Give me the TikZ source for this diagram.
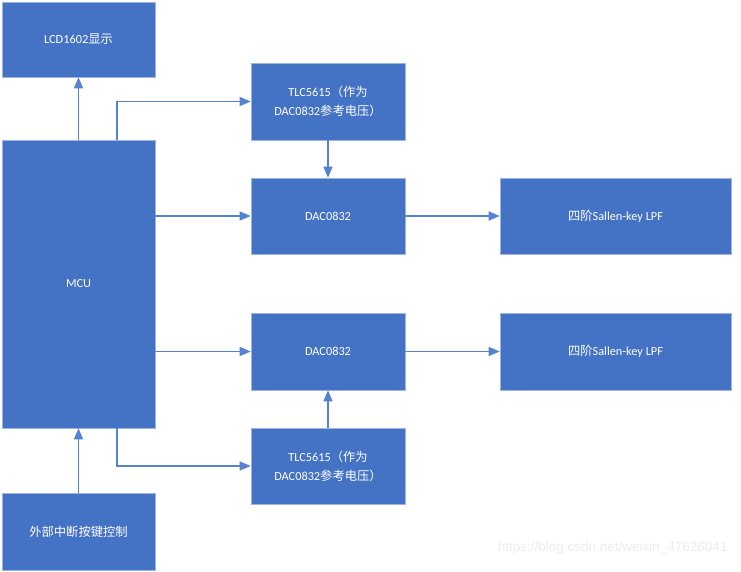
\documentclass[tikz,border=0pt]{standalone}
\usepackage{fontspec}
\setmainfont{Carlito}
\newfontfamily\cjk{Noto Sans CJK SC}
\newfontfamily\wmfont{Liberation Sans}
\usetikzlibrary{arrows.meta}
\definecolor{boxblue}{HTML}{4472C4}
\definecolor{edgeblue}{HTML}{9DB5E2}
\definecolor{lineblue}{HTML}{5583D2}
\begin{document}
\begin{tikzpicture}[x=1pt,y=-1pt,
  blk/.style={draw=edgeblue, line width=0.6pt, fill=boxblue, text=white,
    minimum width=#1, align=center, font=\fontsize{12.3}{19}\selectfont, inner sep=0pt},
  blk/.default=153pt,
  conn/.style={draw=lineblue, line width=1.2pt, -{Triangle[length=11pt,width=9pt]}}]
\useasboundingbox[fill=white] (0,0) rectangle (741,572);
\node[blk, minimum height=75pt] (lcd) at (78.5,39.5) {LCD1602{\cjk 显示}};
\node[blk, minimum height=288pt] (mcu) at (78.5,284) {MCU};
\node[blk, minimum height=77pt] (ext) at (78.5,531.5) {{\cjk 外部中断按键控制}};
\node[blk=154pt, minimum height=77pt] (tlc1) at (328,101.5) {TLC5615{\cjk （作为}\\DAC0832{\cjk 参考电压）}};
\node[blk=154pt, minimum height=76pt] (dac1) at (328,216) {DAC0832};
\node[blk=231pt, minimum height=76pt] (lpf1) at (615.5,216) {{\cjk 四阶}Sallen-key LPF};
\node[blk=154pt, minimum height=77pt] (dac2) at (328,351.5) {DAC0832};
\node[blk=231pt, minimum height=77pt] (lpf2) at (615.5,351.5) {{\cjk 四阶}Sallen-key LPF};
\node[blk=154pt, minimum height=76pt] (tlc2) at (328,466) {TLC5615{\cjk （作为}\\DAC0832{\cjk 参考电压）}};
\node[text=black!7, font=\wmfont\fontsize{13.5}{16}\selectfont, anchor=east] (wm) at (731,548) {https://blog.csdn.net/weixin\_47626041};
\draw[conn] (mcu.north) -- (lcd.south);
\draw[conn] ([xshift=38.5pt]mcu.north) |- (tlc1.west);
\draw[conn] (tlc1.south) -- (dac1.north);
\draw[conn] (dac1.west -| mcu.east) -- (dac1.west);
\draw[conn] (dac1.east) -- (lpf1.west);
\draw[conn] (dac2.west -| mcu.east) -- (dac2.west);
\draw[conn] (dac2.east) -- (lpf2.west);
\draw[conn] (tlc2.north) -- (dac2.south);
\draw[conn] ([xshift=38.5pt]mcu.south) |- (tlc2.west);
\draw[conn] (ext.north) -- (mcu.south);
\end{tikzpicture}
\end{document}
